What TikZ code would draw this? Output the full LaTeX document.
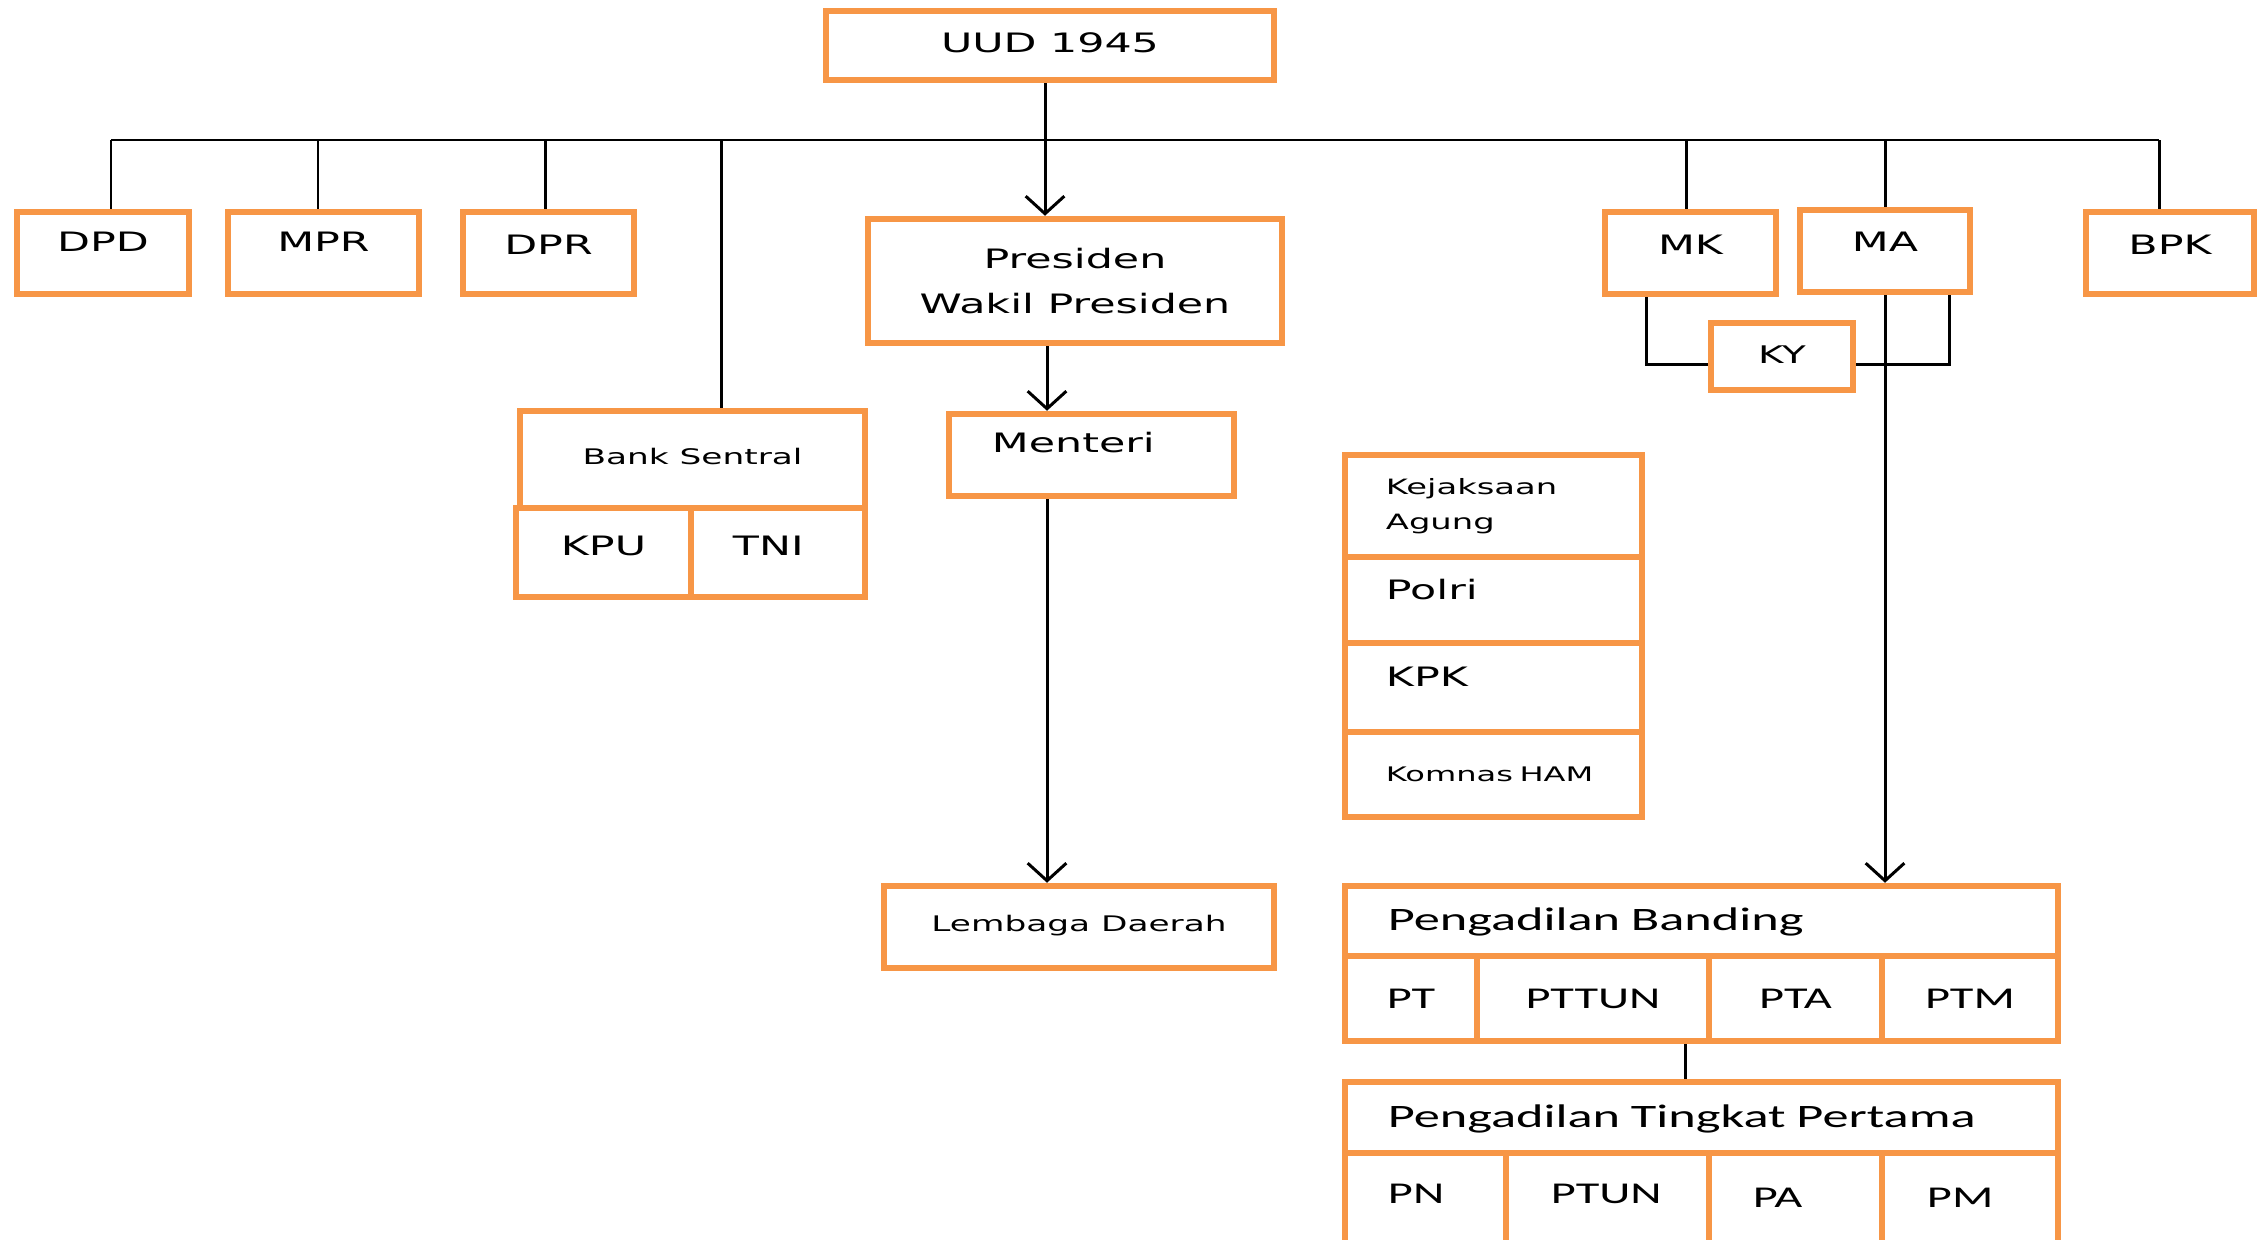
\documentclass[tikz,border=0pt]{standalone}
\usepackage{fontspec}
\usetikzlibrary{arrows.meta}
\newfontfamily\vd[FakeStretch=1.6]{DejaVu Sans}
\newfontfamily\cb[FakeStretch=1.6]{Carlito}
\definecolor{bxorange}{HTML}{F79646}
\tikzset{
  box/.style={draw=bxorange, line width=1.85pt, fill=white, inner sep=0pt},
  sz/.style 2 args={minimum width=#1*0.01cm, minimum height=#2*0.01cm},
  lift/.style={text height=5.5pt, text depth=#1},
  fbig/.style={font=\vd\fontsize{7.6}{9}\selectfont},
  fsmall/.style={font=\vd\fontsize{6.1}{10}\selectfont},
  fcal/.style={font=\cb\fontsize{9.3}{11}\selectfont},
  fcalsm/.style={font=\cb\fontsize{8.6}{10}\selectfont},
  link/.style={line width=0.85pt},
  arr/.style={link, -{Straight Barb[length=5pt,width=11pt]}},
}
\begin{document}
\begin{tikzpicture}[x=0.01cm,y=-0.01cm]%BAGAN LEMBAGA NEGARA
\useasboundingbox (0,0) rectangle (2260,1239);
\clip (0,0) rectangle (2260,1239);
\node[box,fbig,lift=0.06cm,sz={448}{69}] (uud) at (1050,45.5) {UUD 1945};
\node[box,align=center,sz={414}{124},font=\vd\fontsize{7.6}{12.9}\selectfont] (pres) at (1075,281) {Presiden\\Wakil Presiden};
\node[box,fbig,lift=0.22cm,sz={172}{82}] (dpd) at (103,253) {DPD};
\node[box,fbig,lift=0.22cm,sz={191}{82}] (mpr) at (323.5,253) {MPR};
\node[box,fbig,lift=0.16cm,sz={171}{82}] (dpr) at (548.5,253) {DPR};
\node[box,fbig,lift=0.14cm,sz={175}{89}] (kpu) at (603.5,552.5) {KPU};
\node[box,fbig,align=left,text width=0.9cm,lift=0.14cm,sz={174}{89}] (tni) at (778,552.5) {TNI};
\node[box,fsmall,lift=0.10cm,sz={345}{97}] (bank) at (692.5,459.5) {Bank Sentral};
\node[box,fbig,align=left,text width=1.99cm,lift=0.24cm,sz={285}{82}] (menteri) at (1091.5,455) {Menteri};
\node[box,fsmall,lift=0.10cm,sz={390}{82}] (lembaga) at (1079,927) {Lembaga Daerah};
\node[box,fbig,lift=0.16cm,sz={171}{82}] (mk) at (1690.5,253) {MK};
\node[box,fbig,lift=0.18cm,sz={170}{82}] (ma) at (1885,251) {MA};
\node[box,font=\vd\fontsize{6.9}{9}\selectfont,lift=0.06cm,sz={142}{67}] (ky) at (1782,356.5) {KY};
\node[box,fbig,lift=0.16cm,sz={168}{82}] (bpk) at (2170,253) {BPK};
% kolom kiri bawah
\node[box,align=left,text width=2.15cm,sz={297}{102},font=\vd\fontsize{6}{10}\selectfont] (kejagung) at (1493.5,506) {Kejaksaan\\Agung};
\node[box,fbig,align=left,text width=2.15cm,lift=0.20cm,sz={297}{86}] (polri) at (1493.5,600) {Polri};
\node[box,fbig,align=left,text width=2.15cm,lift=0.22cm,sz={297}{89}] (kpk) at (1493.5,687.5) {KPK};
\node[box,align=left,text width=2.15cm,sz={297}{85},font=\vd\fontsize{5.7}{9}\selectfont] (komnas) at (1493.5,774.5) {Komnas~HAM};
% pengadilan
\node[box,fcal,align=left,text width=6.27cm,lift=0cm,sz={713}{70}] (banding) at (1701.5,921) {Pengadilan Banding};
\foreach \n/\t/\x/\w in {pt/PT/1411/132, pttun/PTTUN/1593/232, pta/PTA/1795.5/173, ptm/PTM/1970/176}
  \node[box,fcalsm,sz={\w}{85}] (\n) at (\x,998.5) {\t};
\node[box,fcal,align=left,text width=6.27cm,lift=0cm,sz={713}{71}] (tingkat) at (1701.5,1117.5) {Pengadilan Tingkat Pertama};
\foreach \n/\t/\x/\w/\tw/\d in {pn/PN/1425.5/161/0.75cm/0.08cm, ptun/PTUN/1607.5/203/1.13cm/0.08cm, pa/PA/1795.5/173/0.85cm/0cm, pm/PM/1970/176/0.86cm/0cm}
  \node[box,fcalsm,align=left,text width=\tw,lift=\d,sz={\w}{90}] (\n) at (\x,1198) {\t};
% garis
\foreach \n/\x in {dpd/111, mpr/318, dpr/545, bank/721, uud/1045, mk/1686, ma/1885, bpk/2159}
  \coordinate (j\n) at (\x,140);
\draw[link] (jdpd) -- (jbpk);
\foreach \n in {dpd,mpr,dpr,bank,mk,ma,bpk}
  \draw[link] (j\n) -- (j\n |- \n.north);
\draw[arr] (juud |- uud.south) -- (juud |- pres.north);
\coordinate (xm) at (1047,0);
\draw[arr] (pres.south -| xm) -- (menteri.north -| xm);
\draw[arr] (menteri.south -| xm) -- (lembaga.north -| xm);
\coordinate (kyl) at (1646,364);
\coordinate (kyr) at (1949,364);
\draw[link] (mk.south -| kyl) |- (ky.west |- kyl);
\draw[link] (ky.east |- kyr) -| (ma.south -| kyr);
\draw[arr] (ma.south) -- (ma.south |- banding.north);
\coordinate (xb) at (1685,0);
\draw[link] (pttun.south -| xb) -- (tingkat.north -| xb);
\end{tikzpicture}
\end{document}
